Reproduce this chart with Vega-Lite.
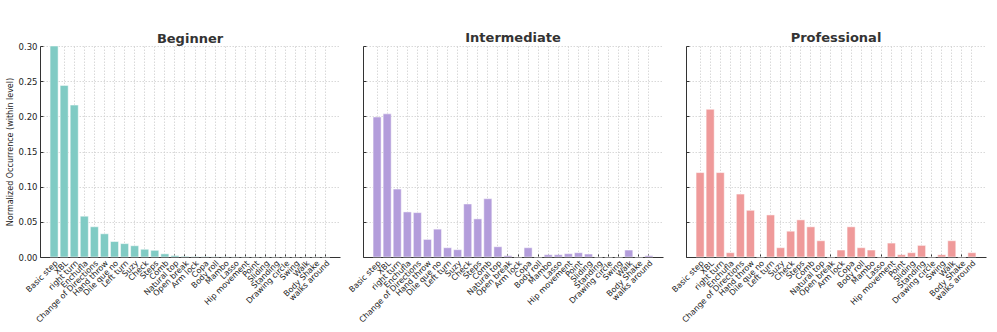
{
  "$schema": "https://vega.github.io/schema/vega-lite/v6.json",
  "background": "white",
  "padding": {"left": 6, "top": 31, "right": 5, "bottom": 5},
  "config": {
    "font": "DejaVu Sans",
    "view": {"stroke": null},
    "axis": {
      "domainColor": "#333333",
      "domainWidth": 1,
      "tickColor": "#333333",
      "tickSize": -3,
      "gridColor": "#cfcfcf",
      "gridDash": [1.5, 1.5],
      "gridWidth": 0.8,
      "labelColor": "#222222",
      "labelFont": "DejaVu Sans",
      "titleFont": "DejaVu Sans",
      "titleColor": "#222222",
      "titleFontWeight": "normal"
    },
    "title": {"font": "DejaVu Sans", "fontSize": 13, "fontWeight": "bold", "color": "#333333", "offset": 1}
  },
  "data": {"values": [
    {"move": "Basic step", "level": "Beginner", "value": 0.300},
    {"move": "XBL", "level": "Beginner", "value": 0.244},
    {"move": "right turn", "level": "Beginner", "value": 0.216},
    {"move": "Enchufla", "level": "Beginner", "value": 0.058},
    {"move": "Change of Directions", "level": "Beginner", "value": 0.043},
    {"move": "Hand throw", "level": "Beginner", "value": 0.033},
    {"move": "Dile que no", "level": "Beginner", "value": 0.022},
    {"move": "Left turn", "level": "Beginner", "value": 0.019},
    {"move": "Suzy", "level": "Beginner", "value": 0.016},
    {"move": "Check", "level": "Beginner", "value": 0.011},
    {"move": "Steps", "level": "Beginner", "value": 0.0095},
    {"move": "Comb", "level": "Beginner", "value": 0.0045},
    {"move": "Natural top", "level": "Beginner", "value": 0.002},
    {"move": "Open break", "level": "Beginner", "value": 0.001},
    {"move": "Arm lock", "level": "Beginner", "value": 0.0007},
    {"move": "Copa", "level": "Beginner", "value": 0.0006},
    {"move": "Body roll", "level": "Beginner", "value": 0.0004},
    {"move": "Mambo", "level": "Beginner", "value": 0.0003},
    {"move": "Lasso", "level": "Beginner", "value": 0.0002},
    {"move": "Hip movement", "level": "Beginner", "value": 0.0002},
    {"move": "Point", "level": "Beginner", "value": 0.0001},
    {"move": "Sliding", "level": "Beginner", "value": 0.0001},
    {"move": "Standing", "level": "Beginner", "value": 0.0001},
    {"move": "Drawing circle", "level": "Beginner", "value": 0.0001},
    {"move": "Swing", "level": "Beginner", "value": 0.0001},
    {"move": "Walk", "level": "Beginner", "value": 0.0001},
    {"move": "Body Shake", "level": "Beginner", "value": 0.0001},
    {"move": "walks around", "level": "Beginner", "value": 0.0001},
    {"move": "Basic step", "level": "Intermediate", "value": 0.199},
    {"move": "XBL", "level": "Intermediate", "value": 0.2035},
    {"move": "right turn", "level": "Intermediate", "value": 0.0966},
    {"move": "Enchufla", "level": "Intermediate", "value": 0.0641},
    {"move": "Change of Directions", "level": "Intermediate", "value": 0.0631},
    {"move": "Hand throw", "level": "Intermediate", "value": 0.025},
    {"move": "Dile que no", "level": "Intermediate", "value": 0.0396},
    {"move": "Left turn", "level": "Intermediate", "value": 0.0132},
    {"move": "Suzy", "level": "Intermediate", "value": 0.0104},
    {"move": "Check", "level": "Intermediate", "value": 0.0754},
    {"move": "Steps", "level": "Intermediate", "value": 0.0542},
    {"move": "Comb", "level": "Intermediate", "value": 0.0829},
    {"move": "Natural top", "level": "Intermediate", "value": 0.0146},
    {"move": "Open break", "level": "Intermediate", "value": 0.0019},
    {"move": "Arm lock", "level": "Intermediate", "value": 0},
    {"move": "Copa", "level": "Intermediate", "value": 0.0132},
    {"move": "Body roll", "level": "Intermediate", "value": 0},
    {"move": "Mambo", "level": "Intermediate", "value": 0.0033},
    {"move": "Lasso", "level": "Intermediate", "value": 0.0033},
    {"move": "Hip movement", "level": "Intermediate", "value": 0.0047},
    {"move": "Point", "level": "Intermediate", "value": 0.0061},
    {"move": "Sliding", "level": "Intermediate", "value": 0.0042},
    {"move": "Standing", "level": "Intermediate", "value": 0},
    {"move": "Drawing circle", "level": "Intermediate", "value": 0},
    {"move": "Swing", "level": "Intermediate", "value": 0},
    {"move": "Walk", "level": "Intermediate", "value": 0.0099},
    {"move": "Body Shake", "level": "Intermediate", "value": 0},
    {"move": "walks around", "level": "Intermediate", "value": 0.0019},
    {"move": "Basic step", "level": "Professional", "value": 0.12},
    {"move": "XBL", "level": "Professional", "value": 0.21},
    {"move": "right turn", "level": "Professional", "value": 0.12},
    {"move": "Enchufla", "level": "Professional", "value": 0.0061},
    {"move": "Change of Directions", "level": "Professional", "value": 0.0895},
    {"move": "Hand throw", "level": "Professional", "value": 0.0664},
    {"move": "Dile que no", "level": "Professional", "value": 0},
    {"move": "Left turn", "level": "Professional", "value": 0.0598},
    {"move": "Suzy", "level": "Professional", "value": 0.0132},
    {"move": "Check", "level": "Professional", "value": 0.0367},
    {"move": "Steps", "level": "Professional", "value": 0.0528},
    {"move": "Comb", "level": "Professional", "value": 0.0429},
    {"move": "Natural top", "level": "Professional", "value": 0.0231},
    {"move": "Open break", "level": "Professional", "value": 0},
    {"move": "Arm lock", "level": "Professional", "value": 0.0099},
    {"move": "Copa", "level": "Professional", "value": 0.0429},
    {"move": "Body roll", "level": "Professional", "value": 0.0132},
    {"move": "Mambo", "level": "Professional", "value": 0.0099},
    {"move": "Lasso", "level": "Professional", "value": 0},
    {"move": "Hip movement", "level": "Professional", "value": 0.0198},
    {"move": "Point", "level": "Professional", "value": 0.0033},
    {"move": "Sliding", "level": "Professional", "value": 0.0061},
    {"move": "Standing", "level": "Professional", "value": 0.0165},
    {"move": "Drawing circle", "level": "Professional", "value": 0},
    {"move": "Swing", "level": "Professional", "value": 0.0033},
    {"move": "Walk", "level": "Professional", "value": 0.0231},
    {"move": "Body Shake", "level": "Professional", "value": 0},
    {"move": "walks around", "level": "Professional", "value": 0.0061}
  ]},
  "bounds": "flush",
  "spacing": 23,
  "hconcat": [
    {
      "title": {"text": "Beginner", "offset": -4},
      "width": 300,
      "height": 211,
      "transform": [{"filter": "datum.level === 'Beginner'"}],
      "mark": {"type": "bar", "color": "#80CBC4", "stroke": "white", "strokeWidth": 0.5},
      "encoding": {
        "x": {"field": "move", "type": "nominal", "sort": null,
          "scale": {"domain": ["Basic step","XBL","right turn","Enchufla","Change of Directions","Hand throw","Dile que no","Left turn","Suzy","Check","Steps","Comb","Natural top","Open break","Arm lock","Copa","Body roll","Mambo","Lasso","Hip movement","Point","Sliding","Standing","Drawing circle","Swing","Walk","Body Shake","walks around"], "paddingInner": 0.2, "paddingOuter": 1.4},
          "axis": {"title": null, "labelAngle": -45, "labelAlign": "right", "labelBaseline": "top", "labelFontSize": 8, "labelPadding": 5, "grid": true}},
        "y": {"field": "value", "type": "quantitative", "scale": {"domain": [0, 0.3], "nice": false, "clamp": true},
          "axis": {"title": "Normalized Occurrence (within level)", "titleFontSize": 8, "values": [0, 0.05, 0.1, 0.15, 0.2, 0.25, 0.3], "format": ".2f", "labelFontSize": 8.5, "labelPadding": 6, "titlePadding": 4, "grid": true}}
      }
    },
    {
      "title": "Intermediate",
      "width": 300,
      "height": 211,
      "transform": [{"filter": "datum.level === 'Intermediate'"}],
      "mark": {"type": "bar", "color": "#B39DDB", "stroke": "white", "strokeWidth": 0.5},
      "encoding": {
        "x": {"field": "move", "type": "nominal", "sort": null,
          "scale": {"domain": ["Basic step","XBL","right turn","Enchufla","Change of Directions","Hand throw","Dile que no","Left turn","Suzy","Check","Steps","Comb","Natural top","Open break","Arm lock","Copa","Body roll","Mambo","Lasso","Hip movement","Point","Sliding","Standing","Drawing circle","Swing","Walk","Body Shake","walks around"], "paddingInner": 0.2, "paddingOuter": 1.4},
          "axis": {"title": null, "labelAngle": -45, "labelAlign": "right", "labelBaseline": "top", "labelFontSize": 8, "labelPadding": 5, "grid": true}},
        "y": {"field": "value", "type": "quantitative", "scale": {"domain": [0, 0.3], "nice": false, "clamp": true},
          "axis": {"title": null, "labels": false, "values": [0, 0.05, 0.1, 0.15, 0.2, 0.25, 0.3], "grid": true}}
      }
    },
    {
      "title": "Professional",
      "width": 300,
      "height": 211,
      "transform": [{"filter": "datum.level === 'Professional'"}],
      "mark": {"type": "bar", "color": "#EF9A9A", "stroke": "white", "strokeWidth": 0.5},
      "encoding": {
        "x": {"field": "move", "type": "nominal", "sort": null,
          "scale": {"domain": ["Basic step","XBL","right turn","Enchufla","Change of Directions","Hand throw","Dile que no","Left turn","Suzy","Check","Steps","Comb","Natural top","Open break","Arm lock","Copa","Body roll","Mambo","Lasso","Hip movement","Point","Sliding","Standing","Drawing circle","Swing","Walk","Body Shake","walks around"], "paddingInner": 0.2, "paddingOuter": 1.4},
          "axis": {"title": null, "labelAngle": -45, "labelAlign": "right", "labelBaseline": "top", "labelFontSize": 8, "labelPadding": 5, "grid": true}},
        "y": {"field": "value", "type": "quantitative", "scale": {"domain": [0, 0.3], "nice": false, "clamp": true},
          "axis": {"title": null, "labels": false, "values": [0, 0.05, 0.1, 0.15, 0.2, 0.25, 0.3], "grid": true}}
      }
    }
  ]
}
